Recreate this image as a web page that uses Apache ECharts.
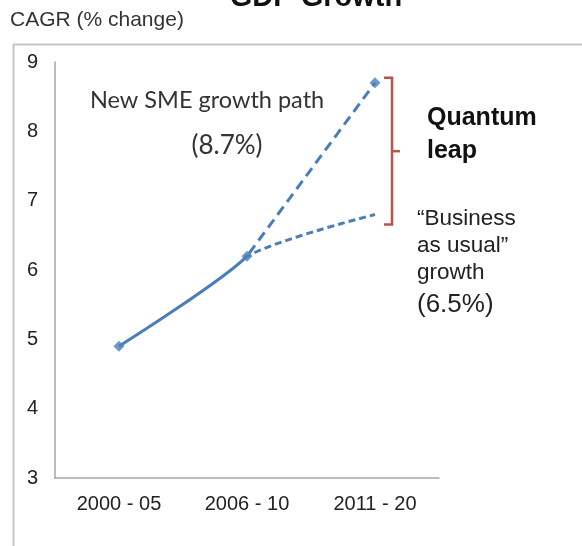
<!DOCTYPE html>
<html><head><meta charset="utf-8">
<script src="https://cdn.jsdelivr.net/npm/echarts@6/dist/echarts.min.js"></script>
<style>html,body{margin:0;padding:0;background:#fff}#c{width:582px;height:546px}</style>
</head><body><div id="c"></div>
<script>
const categories = ['2000 - 05', '2006 - 10', '2011 - 20'];
const smePath = [4.9, 6.2, 8.7];
const bauPath = [4.9, 6.2, 6.8];
const bracketRange = [[2, 8.7, 6.8]];
const yMin = 3, yMax = 9, yStep = 1;

const blue = '#4a7ebb';
const clear = 'rgba(255,255,255,0)';
const chart = echarts.init(document.getElementById('c'), null, {renderer: 'canvas'});
const arial = '"Liberation Sans", Arial, sans-serif';
const cal = 'Lato, "Open Sans", sans-serif';

function txt(x, y, text, font, fill, align) {
  return {type: 'text', x: x, y: y, z: 20,
    style: {text: text, font: font, fill: fill, align: align || 'left', verticalAlign: 'middle'}};
}

chart.setOption({
  backgroundColor: '#fff',
  animation: false,
  title: {
    text: 'GDP Growth', left: 311, top: -22, textAlign: 'center',
    textStyle: {fontFamily: arial, fontSize: 29, fontWeight: 'bold', color: '#111'}
  },
  grid: {left: 55, right: 143, top: 62, bottom: 68},
  xAxis: {
    type: 'category', data: categories, boundaryGap: true,
    axisLine: {lineStyle: {color: '#a6a6a6', width: 1.5}},
    axisTick: {show: false},
    axisLabel: {fontFamily: arial, fontSize: 20, color: '#222', margin: 16}
  },
  yAxis: {
    type: 'value', min: yMin, max: yMax, interval: yStep,
    axisLine: {show: true, lineStyle: {color: '#a6a6a6', width: 1.5}},
    axisTick: {show: false},
    splitLine: {show: false},
    axisLabel: {fontFamily: arial, fontSize: 20, color: '#222', margin: 17}
  },
  visualMap: [
    {type: 'piecewise', show: false, dimension: 0, seriesIndex: 0,
     pieces: [{gte: -1, lte: 1, color: blue}, {gt: 1, lte: 3, color: clear}],
     outOfRange: {color: clear}},
    {type: 'piecewise', show: false, dimension: 0, seriesIndex: [1, 2],
     pieces: [{gte: -1, lt: 1, color: clear}, {gte: 1, lte: 3, color: blue}],
     outOfRange: {color: clear}}
  ],
  series: [
    {type: 'line', data: smePath, smooth: 0.22, symbol: 'none',
     lineStyle: {width: 3}},
    {type: 'line', data: smePath, smooth: false, symbol: 'none',
     lineStyle: {width: 3, type: [10, 6]}},
    {type: 'line', data: bauPath, smooth: 0.3, symbol: 'none',
     lineStyle: {width: 3, type: [7, 4]}},
    {type: 'scatter', data: smePath, symbol: 'diamond', symbolSize: 11,
     itemStyle: {color: blue}, z: 5},
    {type: 'custom', data: bracketRange, encode: {x: 0, y: [1, 2]}, clip: false, z: 6,
     renderItem: function (params, api) {
       const top = api.coord([api.value(0), api.value(1)]);
       const bot = api.coord([api.value(0), api.value(2)]);
       const x = top[0] + 17;
       const y1 = top[1] - 5, y2 = bot[1] + 10, ym = (y1 + y2) / 2;
       const st = {stroke: '#c0504d', lineWidth: 2.5, fill: null};
       return {type: 'group', children: [
         {type: 'polyline', shape: {points: [[x - 8, y1], [x, y1], [x, y2], [x - 8, y2]]}, style: st},
         {type: 'line', shape: {x1: x, y1: ym, x2: x + 8, y2: ym}, style: st}
       ]};
     }}
  ],
  graphic: [
    {type: 'rect', left: 11, top: 42, shape: {width: 600, height: 540},
     style: {fill: null, stroke: '#c4c4c4', lineWidth: 2}, z: -10},
    txt(10, 20, 'CAGR (% change)', '21px ' + arial, '#333'),
    txt(90, 100, 'New SME growth path', '23.5px ' + cal, '#333'),
    txt(227, 146, '(8.7%)', '26px ' + cal, '#333', 'center'),
    txt(427, 118, 'Quantum', 'bold 25px ' + arial, '#111'),
    txt(427, 151, 'leap', 'bold 25px ' + arial, '#111'),
    txt(417, 219, '\u201cBusiness', '22.5px ' + arial, '#222'),
    txt(417, 246, 'as usual\u201d', '22.5px ' + arial, '#222'),
    txt(417, 273, 'growth', '22.5px ' + arial, '#222'),
    txt(417, 305, '(6.5%)', '26px ' + arial, '#222')
  ]
});
</script></body></html>
